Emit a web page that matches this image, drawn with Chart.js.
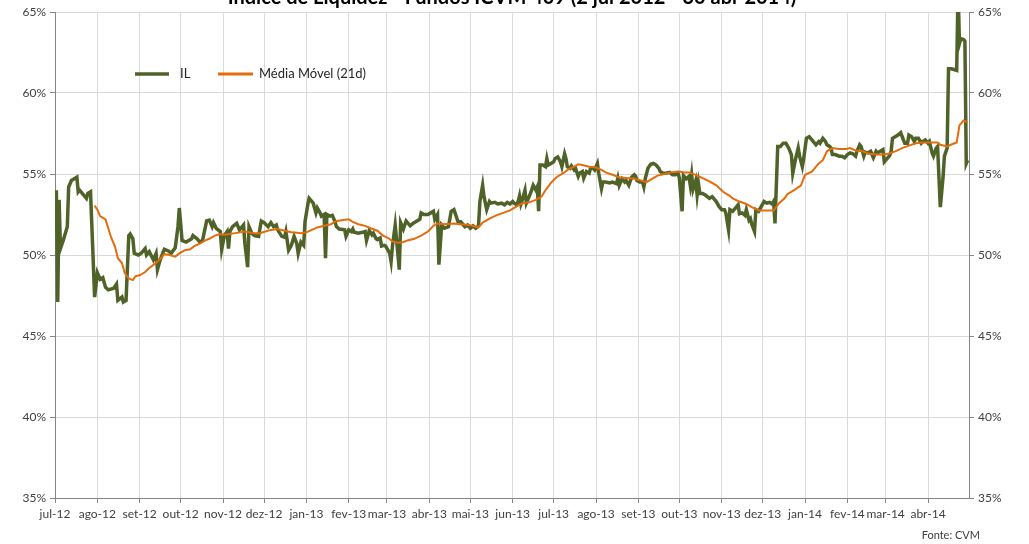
<!DOCTYPE html>
<html>
<head>
<meta charset="utf-8">
<script src="https://cdn.jsdelivr.net/npm/chart.js@4.4.1/dist/chart.umd.min.js"></script>
<style>
  html, body { margin: 0; padding: 0; background: #fff; }
  canvas { display: block; }
</style>
</head>
<body>
<canvas id="chart" width="1029" height="544"></canvas>
<script>
// x values are days counted from 1 jul 2012
const tickLabels = ['jul-12', 'ago-12', 'set-12', 'out-12', 'nov-12', 'dez-12', 'jan-13', 'fev-13', 'mar-13', 'abr-13', 'mai-13', 'jun-13',
    'jul-13', 'ago-13', 'set-13', 'out-13', 'nov-13', 'dez-13', 'jan-14', 'fev-14', 'mar-14', 'abr-14'];
const yTicks = [35, 40, 45, 50, 55, 60, 65];

// IL (daily)
const ilDays = [
    1, 2, 3, 4, 6, 9, 10, 12, 16, 17, 18, 21, 23, 24, 26, 29, 31, 33, 35, 37,
    39, 43, 45, 46, 49, 50, 52, 54, 55, 57, 58, 61, 63, 66, 67, 69, 72, 74, 75, 77,
    80, 83, 85, 88, 90, 91, 93, 96, 100, 101, 104, 106, 108, 111, 113, 115, 116, 118, 121, 122,
    124, 126, 127, 128, 130, 133, 135, 138, 139, 141, 142, 144, 146, 149, 151, 153, 156, 158, 160, 162,
    163, 166, 168, 169, 171, 173, 175, 177, 178, 180, 182, 183, 185, 186, 189, 191, 192, 194, 195, 197,
    198, 199, 201, 203, 205, 206, 208, 212, 213, 215, 217, 218, 219, 222, 225, 227, 228, 230, 232, 233,
    235, 236, 238, 239, 241, 242, 245, 246, 247, 249, 250, 252, 253, 255, 257, 260, 262, 264, 267, 268,
    270, 273, 275, 277, 278, 280, 281, 283, 285, 288, 290, 292, 295, 297, 300, 302, 304, 306, 308, 310,
    311, 313, 314, 316, 318, 319, 322, 324, 327, 329, 331, 333, 335, 336, 338, 339, 340, 341, 342, 344,
    345, 347, 348, 350, 352, 353, 354, 355, 357, 359, 360, 361, 363, 365, 366, 368, 370, 371, 373, 374,
    375, 377, 378, 380, 381, 383, 384, 386, 387, 389, 391, 392, 394, 395, 397, 398, 400, 401, 403, 406,
    408, 411, 412, 413, 415, 417, 418, 420, 422, 424, 425, 426, 428, 430, 431, 432, 434, 436, 438, 440,
    442, 443, 445, 447, 450, 452, 454, 456, 457, 459, 460, 462, 464, 465, 466, 467, 469, 470, 471, 472,
    474, 476, 479, 481, 484, 486, 488, 490, 491, 493, 494, 496, 498, 500, 501, 503, 505, 506, 508, 509,
    510, 512, 513, 515, 517, 519, 521, 523, 525, 526, 527, 529, 531, 533, 535, 537, 539, 540, 542, 544,
    545, 547, 548, 550, 552, 554, 557, 559, 560, 562, 564, 565, 567, 568, 569, 571, 574, 576, 578, 580,
    582, 584, 586, 587, 589, 590, 592, 593, 595, 597, 599, 601, 602, 604, 606, 607, 609, 611, 612, 613,
    615, 617, 619, 621, 622, 624, 625, 627, 629, 630, 632, 634, 635, 637, 639, 640, 642, 643, 645, 646,
    648, 650, 651, 653, 654, 656, 658, 660, 661, 662, 663, 665, 666, 667, 668
];
const ilValues = [
    54.0, 47.1, 53.4, 50.4, 50.9, 51.75, 54.2, 54.6, 54.8, 53.9, 54.0, 53.7, 53.5, 53.8, 53.9, 47.4, 48.9, 48.5, 48.6, 48.0,
    47.85, 47.95, 48.2, 47.2, 47.4, 47.1, 47.2, 51.2, 51.3, 51.0, 50.1, 50.0, 50.1, 50.4, 50.0, 50.2, 49.7, 50.1, 49.1, 49.7,
    50.35, 50.25, 50.1, 50.45, 51.75, 52.9, 50.9, 50.8, 51.0, 51.2, 51.0, 50.8, 50.9, 52.1, 52.15, 51.75, 52.0, 51.65, 51.45, 50.35,
    51.2, 51.45, 50.4, 51.45, 51.75, 51.95, 51.55, 51.85, 50.7, 49.25, 51.75, 51.35, 51.2, 51.15, 52.1, 52.0, 51.75, 52.0, 51.75, 51.85,
    51.55, 51.15, 51.1, 51.45, 50.3, 50.6, 51.15, 50.7, 50.1, 50.8, 50.6, 52.05, 53.1, 53.5, 53.2, 52.6, 52.9, 52.6, 52.4, 52.5,
    49.8, 52.5, 52.4, 52.45, 52.05, 51.75, 51.6, 51.55, 51.15, 51.55, 51.45, 51.6, 51.4, 51.35, 51.4, 51.45, 50.9, 51.5, 51.25, 51.35,
    51.0, 50.95, 51.05, 50.55, 50.6, 50.55, 50.1, 49.6, 50.55, 51.85, 50.95, 49.1, 52.0, 51.6, 52.1, 51.8, 51.95, 52.05, 52.2, 52.6,
    52.5, 52.5, 52.6, 52.7, 52.2, 52.5, 49.4, 51.85, 51.65, 51.75, 52.7, 52.8, 52.05, 52.05, 51.75, 51.85, 51.65, 51.8, 51.65, 51.8,
    53.3, 54.3, 53.6, 52.8, 53.3, 53.2, 53.25, 53.15, 53.2, 53.1, 53.25, 53.15, 53.3, 53.2, 53.1, 53.3, 53.65, 53.15, 53.4, 54.0,
    53.2, 53.6, 53.8, 54.3, 54.0, 54.2, 52.7, 55.55, 55.55, 55.45, 55.95, 55.55, 55.65, 55.75, 55.95, 56.05, 55.75, 55.45, 56.25, 55.95,
    55.45, 55.35, 55.5, 55.25, 55.35, 54.85, 55.05, 55.15, 54.75, 55.15, 55.05, 55.35, 55.35, 55.25, 55.65, 55.05, 54.1, 54.5, 54.5, 54.45,
    54.5, 54.4, 54.75, 54.3, 54.7, 54.5, 54.6, 54.3, 54.8, 54.95, 54.85, 54.6, 54.5, 54.5, 54.2, 54.7, 55.35, 55.6, 55.65, 55.55,
    55.35, 55.15, 55.05, 55.05, 55.1, 54.95, 54.95, 55.05, 54.75, 52.7, 54.9, 54.7, 54.85, 54.3, 54.95, 54.05, 54.6, 53.7, 54.4, 53.8,
    53.8, 53.7, 53.5, 53.6, 53.3, 53.0, 52.8, 52.8, 52.6, 51.55, 52.8, 52.7, 52.9, 53.1, 52.55, 52.6, 52.45, 52.8, 52.15, 52.25,
    51.9, 51.45, 52.8, 52.7, 53.0, 53.3, 53.2, 53.25, 53.15, 53.3, 51.95, 56.7, 56.7, 56.9, 56.9, 56.6, 56.2, 55.05, 55.9, 56.6,
    56.1, 55.45, 55.95, 57.2, 57.3, 57.1, 56.8, 57.0, 56.9, 57.2, 57.0, 56.8, 56.7, 56.6, 56.2, 56.2, 56.1, 56.1, 56.0, 56.2,
    56.3, 56.25, 56.1, 56.4, 56.8, 56.7, 56.1, 56.35, 56.3, 56.4, 56.0, 56.4, 56.3, 56.4, 56.5, 55.75, 55.95, 56.15, 56.4, 57.2,
    57.3, 57.4, 57.55, 57.1, 56.9, 56.9, 57.4, 57.3, 57.0, 57.2, 57.2, 56.9, 57.0, 57.1, 56.9, 57.0, 56.3, 56.1, 56.6, 56.7,
    52.95, 54.8, 56.1, 56.6, 61.5, 61.5, 61.45, 61.4, 66.5, 63.05, 63.35, 63.3, 63.2, 55.65, 55.85
];

// Média Móvel (21d)
const maDays = [
    29, 31, 33, 37, 39, 41, 44, 46, 49, 51, 54, 57, 59, 62, 66, 69, 73, 77, 80, 84,
    88, 91, 95, 99, 102, 106, 110, 113, 117, 121, 124, 132, 139, 146, 150, 154, 158, 163, 168, 173,
    177, 180, 184, 188, 192, 197, 202, 206, 210, 215, 218, 222, 227, 231, 236, 240, 244, 247, 251, 255,
    258, 263, 268, 273, 277, 280, 285, 292, 296, 303, 310, 313, 318, 323, 328, 333, 338, 342, 347, 352,
    356, 359, 363, 367, 372, 376, 380, 383, 386, 391, 396, 400, 403, 408, 413, 418, 424, 429, 433, 436,
    441, 446, 451, 456, 461, 464, 469, 474, 479, 484, 489, 493, 496, 501, 506, 510, 515, 521, 526, 530,
    534, 536, 541, 546, 549, 554, 559, 562, 565, 569, 574, 579, 582, 586, 591, 596, 601, 606, 610, 615,
    620, 625, 630, 635, 640, 646, 648, 653, 657, 660, 662, 665, 668
];
const maValues = [
    53.05, 52.8, 52.4, 52.2, 51.65, 51.1, 50.5, 49.8, 49.5, 48.9, 48.55, 48.45, 48.7, 48.75, 48.95, 49.2, 49.45, 49.75, 50.05, 50.0,
    49.9, 50.1, 50.3, 50.35, 50.55, 50.7, 50.9, 51.0, 51.2, 51.3, 51.25, 51.35, 51.45, 51.35, 51.35, 51.45, 51.55, 51.6, 51.5, 51.4,
    51.38, 51.35, 51.4, 51.55, 51.7, 51.8, 51.9, 52.1, 52.15, 52.2, 52.05, 51.9, 51.8, 51.65, 51.5, 51.2, 51.05, 50.85, 50.75, 50.8,
    50.9, 51.0, 51.2, 51.45, 51.8, 51.95, 51.9, 51.95, 51.9, 51.85, 51.7, 52.0, 52.25, 52.45, 52.6, 52.75, 53.0, 53.2, 53.25, 53.4,
    53.6, 54.0, 54.45, 54.8, 55.05, 55.3, 55.45, 55.6, 55.55, 55.45, 55.4, 55.25, 55.1, 54.95, 54.8, 54.75, 54.7, 54.6, 54.5, 54.65,
    54.9, 55.0, 55.1, 55.15, 55.1, 55.1, 54.95, 54.75, 54.55, 54.3, 53.9, 53.7, 53.5, 53.3, 53.15, 52.95, 52.75, 52.75, 52.75, 53.2,
    53.5, 53.75, 54.0, 54.3, 54.95, 55.15, 55.65, 55.85, 56.4, 56.6, 56.55, 56.55, 56.6, 56.45, 56.4, 56.25, 56.2, 56.2, 56.25, 56.4,
    56.6, 56.75, 56.9, 56.95, 56.95, 56.95, 56.8, 56.7, 56.85, 56.95, 58.0, 58.3, 58.2
];

// first day of each month, counted from 1 jul 2012
const monthStarts = tickLabels.map((label, i) => (Date.UTC(2012, 6 + i, 1) - Date.UTC(2012, 6, 1)) / 86400000);
const lastDay = (Date.UTC(2014, 4, 1) - Date.UTC(2012, 6, 1)) / 86400000;

const green = '#4f6228';
const orange = '#e46c0a';
const axisGray = '#868686';
const gridGray = '#d9d9d9';
const labelFont = { family: 'Lato', size: 12 };

// title (mostly cut off at the top), legend and source note
const extras = {
    id: 'extras',
    beforeDraw(chart) {
        const c = chart.ctx;
        c.save();
        c.fillStyle = '#fff';
        c.fillRect(0, 0, chart.width, chart.height);
        c.restore();
    },
    afterDraw(chart) {
        const c = chart.ctx;
        c.save();
        c.fillStyle = '#000';
        c.font = 'bold 20px Lato';
        c.textAlign = 'center';
        c.textBaseline = 'alphabetic';
        c.fillText('Índice de Liquidez - Fundos ICVM 409 (2 jul 2012 - 30 abr 2014)', 512, 4);

        c.lineWidth = 3.5;
        c.strokeStyle = green;
        c.beginPath(); c.moveTo(135, 74); c.lineTo(169, 74); c.stroke();
        c.lineWidth = 3;
        c.strokeStyle = orange;
        c.beginPath(); c.moveTo(218, 74); c.lineTo(253, 74); c.stroke();
        c.fillStyle = '#262626';
        c.font = '13px Lato';
        c.textAlign = 'left';
        c.textBaseline = 'middle';
        c.fillText('IL', 180, 74);
        c.fillText('Média Móvel (21d)', 259, 74);

        c.font = '11px Lato';
        c.fillStyle = '#404040';
        c.textAlign = 'right';
        c.fillText('Fonte: CVM', 980, 535);
        c.restore();
    }
};

const percentTicks = {
    stepSize: 5,
    color: '#404040',
    font: labelFont,
    padding: 4,
    callback: value => yTicks.includes(value) ? value + '%' : ''
};

const ctx = document.getElementById('chart').getContext('2d');
const chart = new Chart(ctx, {
    type: 'line',
    data: {
        datasets: [
            {
                label: 'Média Móvel (21d)',
                data: maDays.map((d, i) => ({ x: d, y: maValues[i] })),
                borderColor: orange,
                borderWidth: 2,
                pointRadius: 0,
                tension: 0,
                order: 0
            },
            {
                label: 'IL',
                data: ilDays.map((d, i) => ({ x: d, y: ilValues[i] })),
                borderColor: green,
                borderWidth: 3.5,
                pointRadius: 0,
                tension: 0,
                borderJoinStyle: 'miter',
                order: 1
            }
        ]
    },
    options: {
        responsive: false,
        animation: false,
        devicePixelRatio: 1,
        layout: { padding: { top: 12, left: 0, right: 0, bottom: 0 } },
        plugins: {
            legend: { display: false },
            title: { display: false },
            tooltip: { enabled: false }
        },
        scales: {
            x: {
                type: 'linear',
                min: 0,
                max: lastDay,
                afterBuildTicks: axis => { axis.ticks = monthStarts.map(v => ({ value: v })); },
                afterFit: axis => { axis.height = 46; },
                ticks: {
                    autoSkip: false,
                    maxRotation: 0,
                    color: '#404040',
                    font: labelFont,
                    padding: 4,
                    callback: (value, index) => tickLabels[index]
                },
                grid: { color: gridGray, tickColor: axisGray, tickLength: 5 },
                border: { color: axisGray }
            },
            y: {
                position: 'left',
                min: 35,
                max: 65,
                afterFit: axis => { axis.width = 55; },
                ticks: percentTicks,
                grid: { color: gridGray, tickColor: axisGray, tickLength: 5 },
                border: { color: axisGray }
            },
            y2: {
                position: 'right',
                min: 35,
                max: 65,
                afterFit: axis => { axis.width = 60; },
                ticks: percentTicks,
                grid: { drawOnChartArea: false, tickColor: axisGray, tickLength: 5 },
                border: { color: axisGray }
            }
        }
    },
    plugins: [extras]
});
</script>
</body>
</html>
